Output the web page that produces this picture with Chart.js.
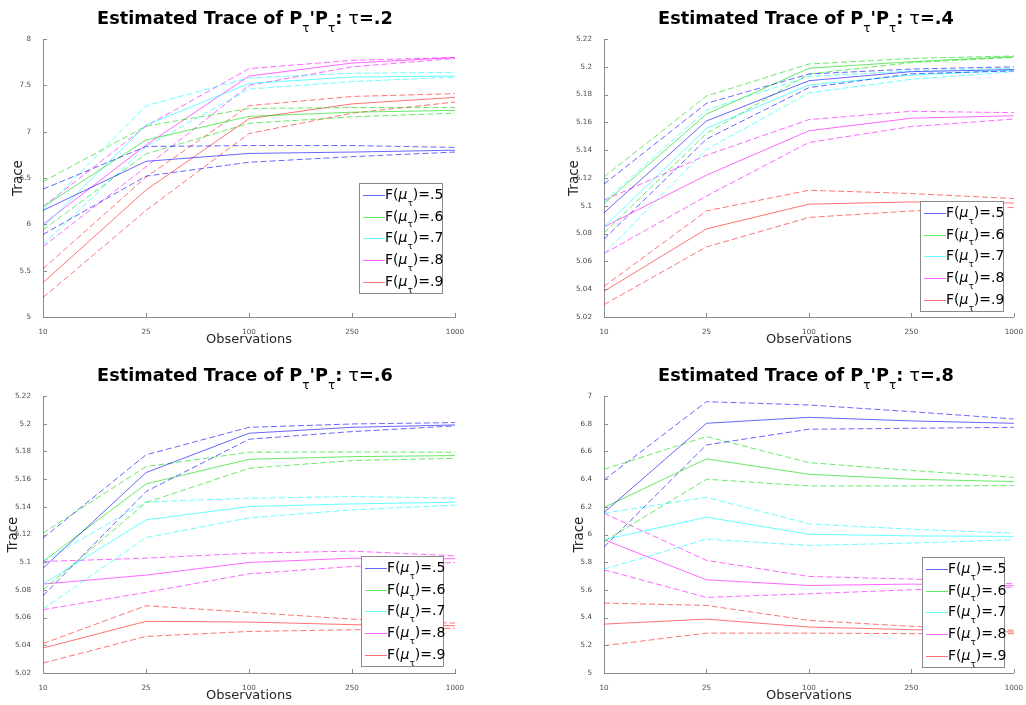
<!DOCTYPE html>
<html>
<head>
<meta charset="utf-8">
<script src="https://cdn.jsdelivr.net/npm/chart.js@4.4.1/dist/chart.umd.min.js"></script>
<style>
  html, body { margin:0; padding:0; background:#fff; }
  #wrap { position:relative; width:1026px; height:705px; background:#fff; overflow:hidden; font-family:"DejaVu Sans", sans-serif; }
  .cv { position:absolute; }
  .title { position:absolute; width:420px; text-align:center; font:bold 17.7px "DejaVu Sans", sans-serif; line-height:20px; color:#000; white-space:nowrap; }
  .title sub { font-weight:normal; font-size:12px; position:relative; top:3px; line-height:0; }
  .title .tau { font-weight:normal; }
  .legend { position:absolute; background:#fff; border:1px solid #8a8a8a; box-sizing:border-box; }
  .legend .row { position:absolute; left:0; height:22px; width:100%; }
  .legend .sw { position:absolute; left:3px; top:10px; width:22px; height:1px; }
  .legend .tx { position:absolute; left:25px; top:1px; font:14px "DejaVu Sans", sans-serif; color:#000; white-space:nowrap; line-height:16px; }
  .legend .tx sub { font-size:9px; position:relative; top:3px; line-height:0; }
  .legend .tx i { font-style:italic; }
</style>
</head>
<body>
<div id="wrap"></div>
<script>
// ---------------- DATA ----------------
const categories = ['10', '25', '100', '250', '1000'];
const seriesLabels = ['.5', '.6', '.7', '.8', '.9'];
const panelTaus = ['.2', '.4', '.6', '.8'];

// tau = .2  (order: F=.5, .6, .7, .8, .9)
const tau2Mean  = [[6.15, 6.68, 6.765, 6.78, 6.80], [6.19, 6.91, 7.165, 7.21, 7.23], [5.97, 7.07, 7.52, 7.59, 7.60], [6.00, 6.855, 7.60, 7.74, 7.80], [5.37, 6.37, 7.14, 7.30, 7.37]];
const tau2Upper = [[6.38, 6.84, 6.85, 6.85, 6.83], [6.46, 7.06, 7.25, 7.26, 7.26], [6.15, 7.28, 7.58, 7.63, 7.64], [6.19, 7.06, 7.68, 7.77, 7.80], [5.52, 6.51, 7.28, 7.38, 7.41]];
const tau2Lower = [[5.89, 6.52, 6.67, 6.73, 6.78], [5.94, 6.76, 7.09, 7.16, 7.20], [5.78, 6.84, 7.46, 7.54, 7.59], [5.76, 6.62, 7.50, 7.70, 7.79], [5.21, 6.15, 6.98, 7.20, 7.32]];

// tau = .4
const tau4Mean  = [[5.095, 5.161, 5.190, 5.1965, 5.198], [5.1016, 5.166, 5.1989, 5.2037, 5.2073], [5.0848, 5.1557, 5.1869, 5.194, 5.1977], [5.0848, 5.122, 5.154, 5.163, 5.1648], [5.0385, 5.0834, 5.1012, 5.1028, 5.102]];
const tau4Upper = [[5.1156, 5.1737, 5.1948, 5.1984, 5.200], [5.1208, 5.179, 5.202, 5.206, 5.2078], [5.103, 5.169, 5.193, 5.197, 5.199], [5.104, 5.1364, 5.162, 5.168, 5.167], [5.042, 5.0963, 5.1112, 5.1088, 5.1052]];
const tau4Lower = [[5.076, 5.148, 5.185, 5.195, 5.197], [5.0805, 5.152, 5.1948, 5.203, 5.2068], [5.0656, 5.1405, 5.1813, 5.191, 5.1965], [5.0656, 5.107, 5.1456, 5.157, 5.1624], [5.0289, 5.0704, 5.0916, 5.0963, 5.0988]];

// tau = .6
const tau6Mean  = [[5.0957, 5.1647, 5.1931, 5.1974, 5.1991], [5.1005, 5.1565, 5.1743, 5.1762, 5.177], [5.0842, 5.1306, 5.1402, 5.1421, 5.1433], [5.0842, 5.0907, 5.0998, 5.1029, 5.1025], [5.038, 5.0573, 5.0568, 5.0549, 5.0541]];
const tau6Upper = [[5.1174, 5.1775, 5.1974, 5.1998, 5.2008], [5.121, 5.169, 5.1794, 5.1796, 5.1794], [5.1005, 5.1436, 5.1462, 5.1474, 5.1462], [5.1005, 5.1029, 5.1065, 5.108, 5.1046], [5.0412, 5.0686, 5.0638, 5.0589, 5.056]];
const tau6Lower = [[5.0758, 5.151, 5.1888, 5.1943, 5.1984], [5.080, 5.143, 5.1678, 5.1734, 5.175], [5.0662, 5.1178, 5.132, 5.1378, 5.1412], [5.0657, 5.0782, 5.0916, 5.0969, 5.0998], [5.0272, 5.0464, 5.05, 5.0512, 5.0522]];

// tau = .8
const tau8Mean  = [[6.159, 6.803, 6.846, 6.82, 6.803], [6.195, 6.546, 6.435, 6.399, 6.382], [5.962, 6.125, 6.002, 5.99, 5.986], [5.962, 5.673, 5.632, 5.642, 5.63], [5.353, 5.389, 5.332, 5.313, 5.296]];
const tau8Upper = [[6.394, 6.959, 6.935, 6.887, 6.834], [6.471, 6.707, 6.519, 6.462, 6.413], [6.154, 6.269, 6.077, 6.038, 6.01], [6.154, 5.813, 5.697, 5.678, 5.644], [5.505, 5.488, 5.38, 5.337, 5.308]];
const tau8Lower = [[5.909, 6.647, 6.76, 6.767, 6.774], [5.95, 6.399, 6.351, 6.351, 6.353], [5.75, 5.966, 5.921, 5.938, 5.962], [5.745, 5.546, 5.572, 5.601, 5.62], [5.197, 5.288, 5.288, 5.284, 5.284]];

// y-axis tick ranges per panel
const yMin  = [5, 5.02, 5.02, 5];
const yMax  = [8, 5.22, 5.22, 7];
const yStep = [0.5, 0.02, 0.02, 0.2];

// ---------------- STYLE / LAYOUT ----------------
const colors = ['rgba(0,0,255,0.6)', 'rgba(0,220,0,0.6)', 'rgba(0,255,255,0.6)', 'rgba(255,0,255,0.6)', 'rgba(255,0,0,0.55)'];
const legendColors = ['rgb(102,102,255)', 'rgb(102,234,102)', 'rgb(102,255,255)', 'rgb(255,102,255)', 'rgb(255,115,115)'];
const axisColor = '#8c8c8c';
const tickColor = '#4d4d4d';

const panels = [
  { mean: tau2Mean, up: tau2Upper, lo: tau2Lower, cx: 0,   cy: 0,   w: 513, h: 350, area: [43, 39, 455, 317], traceX: 18, obsPad: 3,
    titleC: 245, titleTop: 8,   legend: [359, 183, 84, 111] },
  { mean: tau4Mean, up: tau4Upper, lo: tau4Lower, cx: 513, cy: 0,   w: 513, h: 350, area: [91, 39, 502, 317], traceX: 61, obsPad: 3,
    titleC: 806, titleTop: 8,   legend: [920, 201, 84, 111] },
  { mean: tau6Mean, up: tau6Upper, lo: tau6Lower, cx: 0,   cy: 352, w: 513, h: 353, area: [43, 44, 455, 321], traceX: 13, obsPad: 2,
    titleC: 245, titleTop: 365, legend: [361, 556, 83, 111] },
  { mean: tau8Mean, up: tau8Upper, lo: tau8Lower, cx: 513, cy: 352, w: 513, h: 353, area: [91, 44, 502, 321], traceX: 66, obsPad: 2,
    titleC: 806, titleTop: 365, legend: [922, 557, 83, 111] }
];

const inwardTicks = {
  id: 'inwardTicks',
  afterDraw(chart) {
    const { ctx, chartArea: a, scales: { x, y } } = chart;
    ctx.save();
    ctx.strokeStyle = axisColor;
    ctx.lineWidth = 1;
    ctx.beginPath();
    y.ticks.forEach((t, i) => {
      const py = Math.round(y.getPixelForTick(i)) + 0.5;
      ctx.moveTo(a.left, py); ctx.lineTo(a.left + 4, py);
    });
    x.ticks.forEach((t, i) => {
      const px = Math.round(x.getPixelForTick(i)) + 0.5;
      ctx.moveTo(px, a.bottom); ctx.lineTo(px, a.bottom - 4);
    });
    ctx.stroke();
    ctx.restore();
  }
};

const wrap = document.getElementById('wrap');

panels.forEach((p, pi) => {
  const holder = document.createElement('div');
  holder.className = 'cv';
  holder.style.left = p.cx + 'px';
  holder.style.top = p.cy + 'px';
  holder.style.width = p.w + 'px';
  holder.style.height = p.h + 'px';
  const canvas = document.createElement('canvas');
  canvas.width = p.w; canvas.height = p.h;
  canvas.style.width = p.w + 'px'; canvas.style.height = p.h + 'px';
  holder.appendChild(canvas);
  wrap.appendChild(holder);

  const datasets = [];
  for (let s = 0; s < 5; s++) {
    datasets.push({ label: 'F(μτ)=' + seriesLabels[s], data: p.mean[s], borderColor: colors[s], borderWidth: 1, pointRadius: 0, tension: 0, fill: false });
    datasets.push({ label: 'upper ' + seriesLabels[s], data: p.up[s], borderColor: colors[s], borderWidth: 1, borderDash: [6, 3], pointRadius: 0, tension: 0, fill: false });
    datasets.push({ label: 'lower ' + seriesLabels[s], data: p.lo[s], borderColor: colors[s], borderWidth: 1, borderDash: [6, 3], pointRadius: 0, tension: 0, fill: false });
  }

  const [aL, aT, aR, aB] = p.area;
  new Chart(canvas, {
    type: 'line',
    data: { labels: categories, datasets },
    plugins: [inwardTicks],
    options: {
      responsive: false,
      animation: false,
      devicePixelRatio: 1,
      layout: { padding: { top: aT, right: p.w - aR, left: 0, bottom: 0 } },
      plugins: { legend: { display: false }, tooltip: { enabled: false }, title: { display: false } },
      scales: {
        x: {
          type: 'category',
          offset: false,
          grid: { display: false },
          border: { display: true, color: axisColor, width: 1 },
          ticks: { color: tickColor, font: { family: 'DejaVu Sans', size: 7.2 }, padding: 3, maxRotation: 0, autoSkip: false },
          title: { display: true, text: 'Observations', color: '#262626', font: { family: 'DejaVu Sans', size: 13 }, padding: { top: 0, bottom: p.obsPad } },
          afterFit(scale) { scale.height = p.h - aB; }
        },
        y: {
          min: yMin[pi], max: yMax[pi],
          grid: { display: false },
          border: { display: true, color: axisColor, width: 1 },
          ticks: { stepSize: yStep[pi], color: tickColor, font: { family: 'DejaVu Sans', size: 7.2 }, padding: 4,
                   callback: v => String(+(+v).toFixed(2)) },
          title: { display: true, text: 'Trace', color: '#262626', font: { family: 'DejaVu Sans', size: 13.5 }, padding: { top: p.traceX - 8.1, bottom: 0 } },
          afterFit(scale) { scale.width = aL; }
        }
      }
    }
  });

  const t = document.createElement('div');
  t.className = 'title';
  t.style.left = (p.titleC - 210) + 'px';
  t.style.top = p.titleTop + 'px';
  t.innerHTML = 'Estimated Trace of P<sub>τ</sub>\'P<sub>τ</sub>: <span class="tau">τ</span>=' + panelTaus[pi];
  wrap.appendChild(t);

  const [lx, ly, lw, lh] = p.legend;
  const lg = document.createElement('div');
  lg.className = 'legend';
  lg.style.left = lx + 'px'; lg.style.top = ly + 'px';
  lg.style.width = lw + 'px'; lg.style.height = lh + 'px';
  seriesLabels.forEach((lab, s) => {
    const row = document.createElement('div');
    row.className = 'row';
    row.style.top = (1 + s * 21.7) + 'px';
    row.innerHTML = '<div class="sw" style="background:' + legendColors[s] + '"></div><div class="tx">F(<i>μ</i><sub>τ</sub>)=' + lab + '</div>';
    lg.appendChild(row);
  });
  wrap.appendChild(lg);
});
</script>
</body>
</html>
